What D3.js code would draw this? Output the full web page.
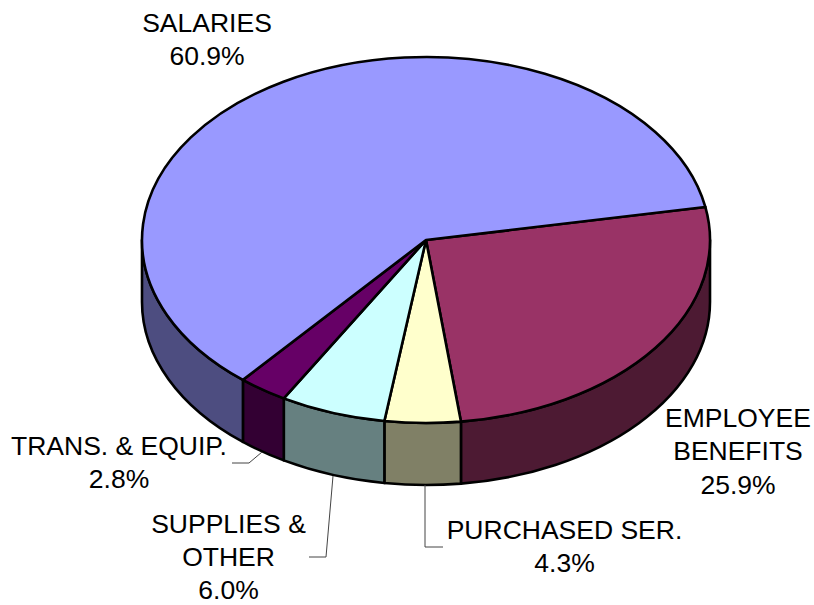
<!DOCTYPE html>
<html><head><meta charset="utf-8">
<script src="https://cdn.jsdelivr.net/npm/d3@7"></script>
<style>html,body{margin:0;padding:0;background:#fff}svg{display:block}</style>
</head><body><div id="chart"></div>
<script>
const categories = ["EMPLOYEE BENEFITS","PURCHASED SER.","SUPPLIES & OTHER","TRANS. & EQUIP.","SALARIES"];
const values = [25.9,4.3,6.0,2.8,60.9];
const topColors = ["#993366","#FFFFCC","#CCFFFF","#660066","#9999FF"];
const sideColors = ["#4D1A33","#808066","#668080","#330033","#4D4D80"];
const labelLines = [["EMPLOYEE","BENEFITS","25.9%"],["PURCHASED SER.","4.3%"],["SUPPLIES &","OTHER","6.0%"],["TRANS. & EQUIP.","2.8%"],["SALARIES","60.9%"]];
const labelAnchors = [[738,427],[564.5,538.5],[228.5,532.5],[119,455],[207,32]];
const leaders = [null,[[425,485],[425,547],[443,547]],[[333,476],[326,557],[309,557]],[[262,452],[249,463],[232,463]],null];

const W=814,H=605,cx=426,cy=240,rx=284,ry=183,depth=62,lineH=33.3;
const svg=d3.select("#chart").append("svg").attr("width",W).attr("height",H);
const start=(90-10.4)*Math.PI/180;
const pie=d3.pie().sort(null).startAngle(start).endAngle(start+2*Math.PI);
const arcs=pie(values);
const pt=(a,dy=0)=>[cx+rx*Math.sin(a),cy-ry*Math.cos(a)+dy];

// side walls: only the front half (d3 angles PI/2 .. 3PI/2) is visible
const wall=(d)=>{
  const lo=Math.max(d.startAngle,Math.PI/2),hi=Math.min(d.endAngle,3*Math.PI/2);
  if(hi<=lo) return null;
  const a=pt(lo),b=pt(hi),c=pt(hi,depth),e=pt(lo,depth);
  return `M${a}A${rx},${ry} 0 0 1 ${b}L${c}A${rx},${ry} 0 0 0 ${e}Z`;
};
svg.append("g").selectAll("path").data(arcs.filter(wall)).join("path")
  .attr("d",wall).attr("fill",d=>sideColors[d.index])
  .attr("stroke","#000").attr("stroke-width",2.6).attr("stroke-linejoin","round");

const arc=d3.arc().innerRadius(0).outerRadius(rx);
svg.append("g").attr("transform",`translate(${cx},${cy}) scale(1,${ry/rx})`)
  .selectAll("path").data(arcs).join("path")
  .attr("d",arc).attr("fill",d=>topColors[d.index])
  .attr("stroke","#000").attr("stroke-width",2.6).attr("stroke-linejoin","round")
  .attr("vector-effect","non-scaling-stroke");

const line=d3.line();
svg.append("g").selectAll("path").data(leaders.filter(Boolean)).join("path")
  .attr("d",line).attr("fill","none").attr("stroke","#444").attr("stroke-width",1);

const t=svg.append("g").attr("font-family","'Liberation Sans',Arial,sans-serif").attr("font-size",26.5).attr("fill","#000").attr("text-anchor","middle");
labelLines.forEach((ls,i)=>{
  ls.forEach((s,j)=>t.append("text").attr("x",labelAnchors[i][0]).attr("y",labelAnchors[i][1]+j*lineH).text(s));
});
</script></body></html>
